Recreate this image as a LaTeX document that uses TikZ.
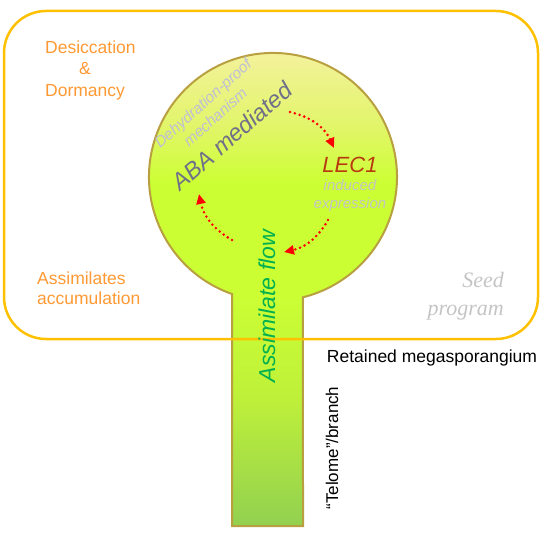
\documentclass[tikz,border=0pt]{standalone}
\usepackage{fontspec}
\setmainfont{Liberation Sans}
\newfontfamily\seedfont{Liberation Serif}
\usetikzlibrary{arrows.meta,calc}
\usepackage{tkz-euclide}

\definecolor{framegold}{RGB}{255,192,0}
\definecolor{seedrim}{RGB}{184,160,64}
\definecolor{labelorange}{RGB}{255,153,51}
\definecolor{flowgreen}{RGB}{0,176,80}
\definecolor{abagray}{RGB}{112,112,136}
\definecolor{dehydgray}{RGB}{190,190,214}
\definecolor{lecred}{RGB}{184,58,16}
\definecolor{softgray}{RGB}{196,196,196}
\definecolor{paleyellow}{RGB}{247,241,166}
\definecolor{limeup}{RGB}{226,245,106}
\definecolor{lime}{RGB}{204,255,51}
\definecolor{limedown}{RGB}{190,240,58}
\definecolor{stemgreen}{RGB}{146,208,80}

\pgfdeclareverticalshading{seedfill}{100bp}{color(0bp)=(stemgreen); color(25bp)=(stemgreen); color(38bp)=(limedown); color(49bp)=(lime); color(60bp)=(lime); color(66bp)=(limeup); color(75bp)=(paleyellow); color(100bp)=(paleyellow)}

\tikzset{
  lbl/.style={inner sep=0pt,font=\fontsize{17.5}{21.5}\selectfont},
  orangelbl/.style={lbl,text=labelorange,align=left,anchor=west},
  cyclearrow/.style={red,line width=2.8pt,dash pattern=on 0pt off 5pt,line cap=round,-{Triangle[length=10pt,width=9pt]}}
}

\begin{document}
\begin{tikzpicture}[x=1pt,y=1pt]
\useasboundingbox (0,0) rectangle (554,536);

\tkzDefPoints{273/359/O,232/10/SL,303/10/SR}
\tkzDefPoints{290/424/A1,334/388/B1,328/316/A2,284/284/B2,232/296/A3,199/342/B3}

\path[draw=seedrim,line width=2pt,shading=seedfill] (SL) -- ++(0,232) arc[start angle=250.7,end angle=-76,radius=124] -- (SR) -- cycle;

\draw[framegold,line width=2.5pt,rounded corners=42pt] (4,197) rectangle (538,525);

\node[orangelbl] (desic) at (45,466) {Desiccation\\\hspace*{34pt}\&\\Dormancy};
\node[orangelbl,font=\fontsize{17.5}{20}\selectfont] (accum) at (37,248) {Assimilates\\accumulation};
\node[inner sep=0pt,anchor=east,align=right,text=softgray,font=\seedfont\itshape\fontsize{22}{28}\selectfont] (seed) at (504,240) {Seed\\program};
\node[lbl] (retained) at (432,178) {Retained megasporangium};
\node[lbl,font=\fontsize{17}{20}\selectfont,rotate=90] (telome) at (332,88) {“Telome”/branch};

\node[inner sep=0pt,rotate=90,text=flowgreen,font=\itshape\fontsize{23}{27}\selectfont] (flow) at (267,230) {Assimilate flow};
\node[inner sep=0pt,rotate=41,text=abagray,font=\itshape\fontsize{23.5}{27}\selectfont] (aba) at (232,400) {ABA mediated};
\node[inner sep=0pt,rotate=42,align=center,text=dehydgray,font=\itshape\fontsize{15.5}{18.5}\selectfont] (dehyd) at (209,426) {Dehydration-proof\\mechanism};
\node[inner sep=0pt,text=lecred,font=\itshape\fontsize{22}{26}\selectfont] (lec) at (350,371) {LEC1};
\node[inner sep=0pt,align=center,text=softgray,font=\itshape\fontsize{15}{18}\selectfont] (induced) at (350,340) {induced\\expression};

\draw[cyclearrow] (A1) to[bend left=26] (B1);
\draw[cyclearrow] (A2) to[bend left=24] (B2);
\draw[cyclearrow] (A3) to[bend left=24] (B3);

\end{tikzpicture}
\end{document}
